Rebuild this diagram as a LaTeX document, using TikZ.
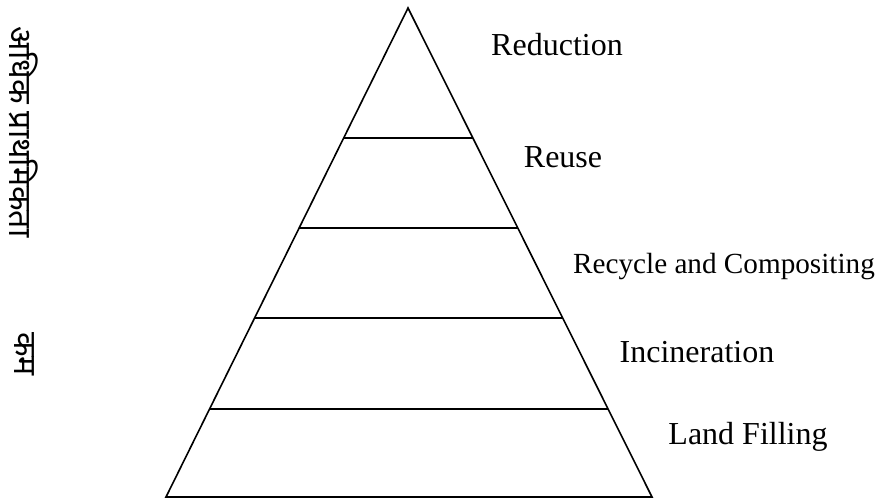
\documentclass[tikz,border=0pt]{standalone}
\usepackage{fontspec}
\setmainfont{Liberation Serif}
\newfontfamily\hindifont[Script=Devanagari]{Noto Sans}
\usepackage{tikz}
\usetikzlibrary{positioning, calc}

\tikzset{
  level/.style={font=\fontsize{16}{18}\selectfont, inner sep=0pt},
  priority/.style={font=\hindifont\fontsize{16}{18}\selectfont, rotate=-90, inner sep=0pt},
  edge/.style={line width=0.8pt}
}

\begin{document}
\begin{tikzpicture}
	[x=0.5pt, y=-0.5pt]
   \useasboundingbox (0,0) rectangle (881,500);
   % pyramid corners
   \coordinate (top) at (408,8);
   \coordinate (bl) at (166,497);
   \coordinate (br) at (652,497);
   \draw[edge] (top) -- (bl) -- (br) -- cycle;
   % level lines
   \foreach \t/\n in {0.266/1, 0.450/2, 0.634/3, 0.820/4}
     \draw[edge] ($(top)!\t!(bl)$) coordinate (l\n) -- ($(top)!\t!(br)$) coordinate (r\n);
   % labels
   \node[level] (reduction) at (557,45) {Reduction};
   \node[level] (reuse) at (563,157) {Reuse};
   \node[level, font=\fontsize{14.6}{17}\selectfont] (recycle) at (724,267) {Recycle and Compositing};
   \node[level] (incineration) at (697,352) {Incineration};
   \node[level] (landfill) at (748,437) {Land Filling};
   % priority
   \node[priority] (high) at (24,132) {अधिक प्राथमिकता};
   \node[priority] (low) at (24,354) {कम};
\end{tikzpicture}
\end{document}
